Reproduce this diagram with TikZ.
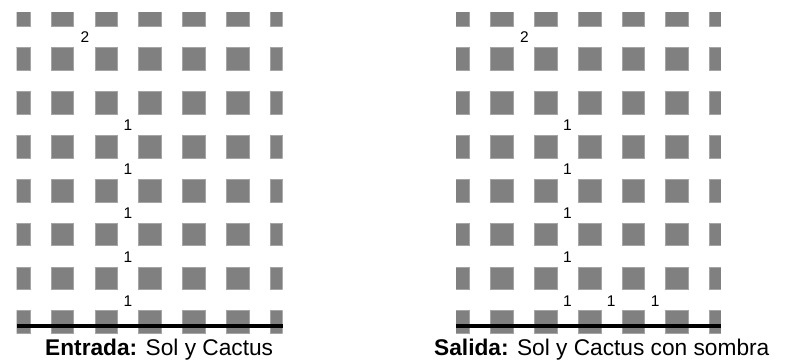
\documentclass[tikz,border=0pt]{standalone}
\usepackage{fontspec}
\setmainfont{Liberation Sans}
\definecolor{sqgray}{RGB}{128,128,128}
\definecolor{sqedge}{RGB}{165,165,165}
\begin{document}
\begin{tikzpicture}[x=1pt,y=-1pt,
  sq/.style={fill=sqgray, draw=sqedge, line width=0.5pt},
  num/.style={inner sep=0pt, font=\fontsize{15.5}{15.5}\selectfont},
  baseline rule/.style={line width=4pt, black},
  caption/.style={anchor=base west, inner sep=0pt, font=\fontsize{22.7}{26}\selectfont}]
\useasboundingbox (0,0) rectangle (790,361);
\foreach \ox/\rx in {0/282.5,439.5/281.3} {
  \begin{scope}
    \clip (\ox+16.7,12.7) rectangle (\ox+\rx,334.3);
    \foreach \i in {0,...,6} {
      \foreach \j in {0,...,7} {
        \pgfmathsetmacro{\cx}{\ox+18.5+43.8*\i}
        \pgfmathsetmacro{\cy}{15+43.85*\j}
        \path[sq] (\cx-11.35,\cy-11.35) rectangle (\cx+11.35,\cy+11.35);
      }
    }
  \end{scope}
}
% base lines
\coordinate (la) at (16.7,326);
\coordinate (lb) at (282.5,326);
\coordinate (ra) at (456.2,326);
\coordinate (rb) at (720.8,326);
\draw[baseline rule] (la) -- (lb);
\draw[baseline rule] (ra) -- (rb);
% left numbers
\node[num] (L2) at (85,36.7) {2};
\node[num] (L1a) at (128,125) {1};
\node[num] (L1b) at (128,169) {1};
\node[num] (L1c) at (128,213) {1};
\node[num] (L1d) at (128,257) {1};
\node[num] (L1e) at (128,301) {1};
% right numbers
\node[num] (R2) at (524.5,36.7) {2};
\node[num] (R1a) at (567.5,125) {1};
\node[num] (R1b) at (567.5,169) {1};
\node[num] (R1c) at (567.5,213) {1};
\node[num] (R1d) at (567.5,257) {1};
\node[num] (R1e) at (567.5,301) {1};
\node[num] (R1f) at (611.3,301) {1};
\node[num] (R1g) at (655.1,301) {1};
% captions
\node[caption] (capL) at (45,355.5) {\textbf{Entrada:} Sol y Cactus};
\node[caption] (capR) at (434,355.5) {\textbf{Salida:} Sol y Cactus con sombra};
\end{tikzpicture}
\end{document}
